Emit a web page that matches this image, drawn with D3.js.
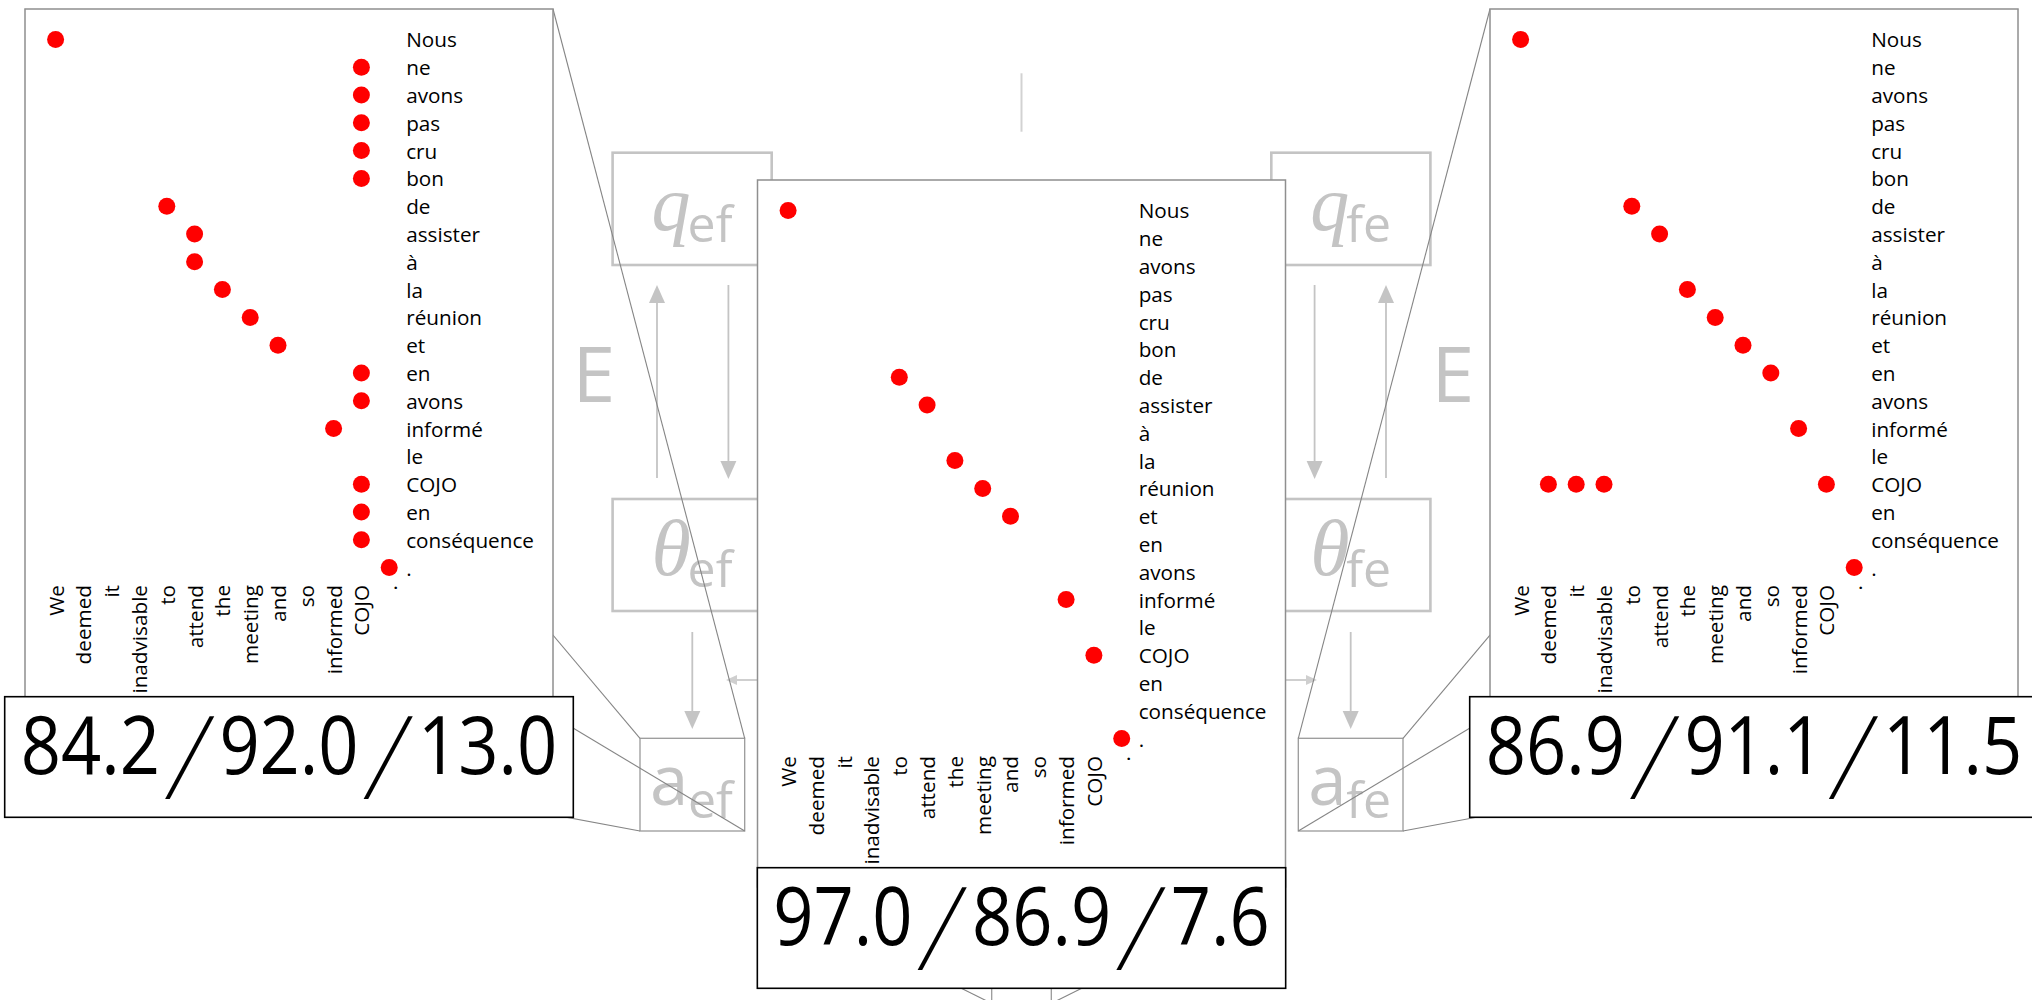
<!DOCTYPE html>
<html>
<head>
<meta charset="utf-8">
<script src="https://cdn.jsdelivr.net/npm/d3@7"></script>
<style>
  html, body { margin: 0; padding: 0; background: #fff; }
  svg { display: block; }
</style>
</head>
<body>
<svg id="chart" width="2032" height="1000"></svg>
<script>
// Sentence pair: English source (columns) and French target (rows)
const englishTokens = ["We", "deemed", "it", "inadvisable", "to", "attend", "the", "meeting", "and", "so", "informed", "COJO", "."];
const frenchTokens = ["Nous", "ne", "avons", "pas", "cru", "bon", "de", "assister", "à", "la", "réunion", "et", "en", "avons", "informé", "le", "COJO", "en", "conséquence", "."];

// Alignment links as [English index, French index]
const linksEF = [[0, 0], [11, 1], [11, 2], [11, 3], [11, 4], [11, 5], [4, 6], [5, 7], [5, 8], [6, 9], [7, 10], [8, 11], [11, 12], [11, 13], [10, 14], [11, 16], [11, 17], [11, 18], [12, 19]];
const linksSym = [[0, 0], [4, 6], [5, 7], [6, 9], [7, 10], [8, 11], [10, 14], [11, 16], [12, 19]];
const linksFE = [[0, 0], [4, 6], [5, 7], [6, 9], [7, 10], [8, 11], [9, 12], [10, 14], [1, 16], [2, 16], [3, 16], [11, 16], [12, 19]];

// Precision / recall / AER for each alignment
const scoresEF = [84.2, 92.0, 13.0];
const scoresSym = [97.0, 86.9, 7.6];
const scoresFE = [86.9, 91.1, 11.5];

const svg = d3.select("#chart");
const SANS = "'Open Sans', 'DejaVu Sans', sans-serif";
const SERIF = "'Liberation Serif', 'DejaVu Serif', serif";
const LIGHT = "#c4c4c4";
const LINE = "#858585";

// ---------- background model diagram (symmetric about the centre) ----------
const CX = 1021.5;
const mirror = x => 2 * CX - x;
const back = svg.append("g");

const leftSide = {
  qBox: { x0: 612.6, x1: 771.7, y0: 152.7, y1: 265 },
  tBox: { x0: 612.6, x1: 771.7, y0: 499, y1: 611 },
  aBox: { x0: 640, x1: 744.7, y0: 738.3, y1: 831 }
};
const mirrorBox = b => ({ x0: mirror(b.x1), x1: mirror(b.x0), y0: b.y0, y1: b.y1 });
const rightSide = {
  qBox: mirrorBox(leftSide.qBox),
  tBox: mirrorBox(leftSide.tBox),
  aBox: mirrorBox(leftSide.aBox)
};

function arrow(g, x1, y1, x2, y2, head, half, color) {
  const ang = Math.atan2(y2 - y1, x2 - x1);
  const bx = x2 - head * Math.cos(ang), by = y2 - head * Math.sin(ang);
  g.append("line").attr("x1", x1).attr("y1", y1).attr("x2", bx).attr("y2", by)
    .attr("stroke", color).attr("stroke-width", 1.8);
  const nx = -Math.sin(ang) * half, ny = Math.cos(ang) * half;
  g.append("path")
    .attr("d", `M${x2},${y2}L${bx + nx},${by + ny}L${bx - nx},${by - ny}Z`)
    .attr("fill", color);
}

// model symbol: main glyph plus a sans-serif subscript
function symbol(g, box, main, sub, opt) {
  g.append("text").attr("x", box.x0 + opt.mainDx).attr("y", opt.mainY)
    .attr("font-family", opt.italic ? SERIF : SANS).attr("font-style", opt.italic ? "italic" : "normal")
    .attr("font-size", opt.size).attr("fill", LIGHT).text(main);
  g.append("text").attr("x", box.x0 + opt.subDx).attr("y", opt.subY)
    .attr("font-family", SANS).attr("font-size", 50).attr("fill", LIGHT).text(sub);
}

function drawSide(side, isLeft, subLabel, eX) {
  const g = back.append("g");
  const mx = x => isLeft ? x : mirror(x);
  [side.qBox, side.tBox].forEach(b => {
    g.append("rect").attr("x", b.x0).attr("y", b.y0).attr("width", b.x1 - b.x0).attr("height", b.y1 - b.y0)
      .attr("fill", "none").attr("stroke", LIGHT).attr("stroke-width", 2.6);
  });
  const a = side.aBox;
  g.append("rect").attr("x", a.x0).attr("y", a.y0).attr("width", a.x1 - a.x0).attr("height", a.y1 - a.y0)
    .attr("fill", "none").attr("stroke", "#9a9a9a").attr("stroke-width", 1.3);

  symbol(g, side.qBox, "q", subLabel, { italic: true, mainDx: 39, subDx: 75, mainY: 230, subY: 241.7, size: 78 });
  symbol(g, side.tBox, "θ", subLabel, { italic: true, mainDx: 39, subDx: 75, mainY: 575, subY: 587, size: 80 });
  symbol(g, side.aBox, "a", subLabel, { italic: false, mainDx: 10, subDx: 48, mainY: 805, subY: 818, size: 69 });

  g.append("text").attr("x", eX).attr("y", 401.7).attr("text-anchor", "middle")
    .attr("font-family", SANS).attr("font-size", 77).attr("fill", LIGHT).text("E");

  arrow(g, mx(657), 478, mx(657), 285, 18, 8, LIGHT);
  arrow(g, mx(728.4), 285, mx(728.4), 479, 18, 8, LIGHT);
  arrow(g, mx(692.3), 632, mx(692.3), 729, 18, 8, LIGHT);
  arrow(g, CX, 680, mx(726), 680, 11, 5, "#cfcfcf");
}
drawSide(leftSide, true, "ef", 594);
drawSide(rightSide, false, "fe", 1453);

back.append("line").attr("x1", CX).attr("x2", CX).attr("y1", 73.3).attr("y2", 131.7)
  .attr("stroke", "#d2d2d2").attr("stroke-width", 2);

// ---------- magnified alignment panels ----------
const PW = 528, PH = 707;
const xCol = d3.scalePoint().domain(d3.range(englishTokens.length)).range([30.6, 30.6 + 27.8 * (englishTokens.length - 1)]);
const yRow = d3.scalePoint().domain(d3.range(frenchTokens.length)).range([30.4, 30.4 + 27.8 * (frenchTokens.length - 1)]);

const bottomBox = { x0: 991.7, x1: 1051.3, y0: 940, y1: 1003.4 };
const panels = [
  { x: 25, y: 9, links: linksEF, scores: scoresEF, src: leftSide.aBox },
  { x: 1490, y: 9, links: linksFE, scores: scoresFE, src: rightSide.aBox },
  { x: 757.5, y: 180, links: linksSym, scores: scoresSym, src: bottomBox }
];

// connector lines from each source box to the corners of its panel
const conn = svg.append("g");
back.append("rect").attr("x", bottomBox.x0).attr("y", bottomBox.y0)
  .attr("width", bottomBox.x1 - bottomBox.x0).attr("height", 120)
  .attr("fill", "none").attr("stroke", "#9a9a9a").attr("stroke-width", 1.3);
panels.forEach(p => {
  const b = p.src;
  const pairs = [
    [b.x0, b.y0, p.x, p.y], [b.x1, b.y0, p.x + PW, p.y],
    [b.x0, b.y1, p.x, p.y + PH], [b.x1, b.y1, p.x + PW, p.y + PH]
  ];
  pairs.forEach(([x1, y1, x2, y2]) => {
    conn.append("line").attr("x1", x1).attr("y1", y1).attr("x2", x2).attr("y2", y2)
      .attr("stroke", LINE).attr("stroke-width", 1.1);
  });
});

const LABEL_SIZE = 20.3, LABEL_SX = 1.02;
function drawPanel(p) {
  const g = svg.append("g").attr("transform", `translate(${p.x},${p.y})`);
  g.append("rect").attr("width", PW).attr("height", PH)
    .attr("fill", "#fff").attr("stroke", "#8f8f8f").attr("stroke-width", 1.5);

  g.selectAll("circle").data(p.links).join("circle")
    .attr("cx", d => xCol(d[0])).attr("cy", d => yRow(d[1]))
    .attr("r", 8.5).attr("fill", "#ff0000");

  const frX = xCol.range()[1] + 17;
  g.selectAll("text.fr").data(frenchTokens).join("text").attr("class", "fr")
    .attr("transform", (d, i) => `translate(${frX},${yRow(i)}) scale(${LABEL_SX},1)`)
    .attr("dominant-baseline", "central")
    .attr("font-family", SANS).attr("font-size", LABEL_SIZE).attr("fill", "#000")
    .text(d => d);

  const enY = yRow.range()[1] + 17.4;
  g.selectAll("text.en").data(englishTokens).join("text").attr("class", "en")
    .attr("transform", (d, i) => `translate(${xCol(i)},${enY}) rotate(-90) scale(${LABEL_SX},1)`)
    .attr("text-anchor", "end").attr("dominant-baseline", "central")
    .attr("font-family", SANS).attr("font-size", LABEL_SIZE).attr("fill", "#000")
    .text(d => d);
}

// ---------- score boxes: numbers separated by long thin slashes ----------
const NUM_SX = 0.88, NUM_SIZE = 80;
const SLASH_FONT = "Inter, Lato, 'Liberation Serif', serif";
const SLASH_SIZE = 100, SLASH_SX = 1.9, SLASH_SY = 0.95, SLASH_DROP = 15.5, SLASH_PRE = -1, SLASH_POST = -1;
function drawScore(p) {
  const cx = p.x + PW / 2;
  const top = p.y + PH - 19.3;
  const baseline = top + 77;
  const g = svg.append("g");
  const rect = g.append("rect");
  const row = g.append("g");
  let cursor = 0;
  p.scores.forEach((v, i) => {
    if (i > 0) {
      cursor += SLASH_PRE;
      const s = row.append("text")
        .attr("font-family", SLASH_FONT).attr("font-weight", 100)
        .attr("font-size", SLASH_SIZE).attr("fill", "#000")
        .text("/");
      s.attr("transform", `translate(${cursor},${SLASH_DROP}) scale(${SLASH_SX},${SLASH_SY})`);
      cursor += s.node().getComputedTextLength() * SLASH_SX + SLASH_POST;
    }
    const t = row.append("text")
      .attr("font-family", SANS).attr("font-size", NUM_SIZE).attr("fill", "#000")
      .text(v.toFixed(1));
    t.attr("transform", `translate(${cursor},0) scale(${NUM_SX},1)`);
    cursor += t.node().getComputedTextLength() * NUM_SX;
  });
  row.attr("transform", `translate(${cx - cursor / 2},${baseline})`);
  const w = cursor + 32;
  rect.attr("x", cx - w / 2).attr("y", top).attr("width", w).attr("height", 120.6)
    .attr("fill", "#fff").attr("stroke", "#000").attr("stroke-width", 1.6);
}

panels.forEach(drawPanel);
panels.forEach(drawScore);
</script>
</body>
</html>
